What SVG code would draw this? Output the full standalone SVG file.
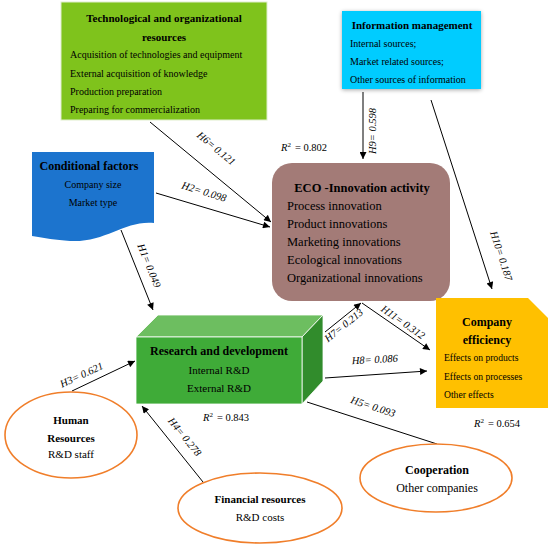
<svg xmlns="http://www.w3.org/2000/svg" width="550" height="549" viewBox="0 0 550 549">
<style>
text{font-family:"Liberation Serif","Times New Roman",serif;fill:#000}
.b{font-weight:bold}
.s10{font-size:10px}
.s11{font-size:11px}
.s12{font-size:12px}
.s13{font-size:12.5px}
.h{font-size:10.5px;font-style:italic}
.c{text-anchor:middle}
.ln{stroke:#000;stroke-width:1;fill:none}
.el{fill:#fff;stroke:#F07E2A;stroke-width:1.6}
.r2{font-size:10.5px}
</style>
<defs>
<marker id="arr" viewBox="0 0 10 10" refX="10" refY="5" markerWidth="9" markerHeight="7" markerUnits="userSpaceOnUse" orient="auto">
<path d="M0,0 L10,5 L0,10 z" fill="#000"/>
</marker>
<filter id="sh" x="-10%" y="-10%" width="120%" height="130%">
<feGaussianBlur in="SourceAlpha" stdDeviation="2"/>
<feOffset dx="0" dy="1"/>
<feComponentTransfer><feFuncA type="linear" slope="0.35"/></feComponentTransfer>
<feMerge><feMergeNode/><feMergeNode in="SourceGraphic"/></feMerge>
</filter>
</defs>
<rect width="550" height="549" fill="#fff"/>

<g id="connectors">
<line class="ln" x1="150" y1="122" x2="271" y2="222" marker-end="url(#arr)"/>
<line class="ln" x1="156" y1="193" x2="270" y2="227" marker-end="url(#arr)"/>
<line class="ln" x1="363" y1="92" x2="363" y2="159" marker-end="url(#arr)"/>
<line class="ln" x1="431" y1="100" x2="492" y2="289" marker-end="url(#arr)"/>
<line class="ln" x1="121" y1="230" x2="153" y2="310" marker-end="url(#arr)"/>
<line class="ln" x1="72" y1="391" x2="135" y2="361" marker-end="url(#arr)"/>
<line class="ln" x1="203" y1="482" x2="142" y2="406" marker-end="url(#arr)"/>
<line class="ln" x1="307" y1="402" x2="437" y2="444"/>
<line class="ln" x1="325" y1="332" x2="361" y2="303" marker-end="url(#arr)"/>
<line class="ln" x1="362" y1="303" x2="430" y2="350" marker-end="url(#arr)"/>
<line class="ln" x1="325" y1="378" x2="427" y2="371" marker-end="url(#arr)"/>
<text class="h c" transform="translate(214,151) rotate(40)">H6= 0.121</text>
<text class="h c" transform="translate(203,195) rotate(17)">H2= 0.098</text>
<text class="h c" transform="translate(376,131) rotate(-90)">H9= 0.598</text>
<text class="h c" transform="translate(498,257) rotate(72)">H10= 0.187</text>
<text class="h c" transform="translate(146,267) rotate(68)">H1= 0.049</text>
<text class="h c" transform="translate(83,378) rotate(-25)">H3= 0.621</text>
<text class="h c" transform="translate(182,439) rotate(51)">H4= 0.278</text>
<text class="h c" transform="translate(372,410) rotate(18)">H5= 0.093</text>
<text class="h c" transform="translate(346,328) rotate(-39)">H7= 0.213</text>
<text class="h c" transform="translate(401,325) rotate(35)">H11= 0.312</text>
<text class="h c" transform="translate(375,363) rotate(-3)">H8= 0.086</text>
</g>

<g id="r2-labels">
<text class="r2" x="281" y="151"><tspan font-style="italic">R</tspan><tspan dy="-4" font-size="7">2</tspan><tspan dy="4" dx="4">= 0.802</tspan></text>
<text class="r2" x="203" y="421"><tspan font-style="italic">R</tspan><tspan dy="-4" font-size="7">2</tspan><tspan dy="4" dx="4">= 0.843</tspan></text>
<text class="r2" x="474" y="427"><tspan font-style="italic">R</tspan><tspan dy="-4" font-size="7">2</tspan><tspan dy="4" dx="4">= 0.654</tspan></text>
</g>

<g id="tech">
<rect x="61" y="2" width="206" height="118" fill="#7FC31C" stroke="#dfeecc" stroke-width="1"/>
<text class="b s11 c" x="164" y="22">Technological and organizational</text>
<text class="b s11 c" x="164" y="41">resources</text>
<text class="s10" x="70" y="58">Acquisition of technologies and equipment</text>
<text class="s10" x="70" y="77">External acquisition of knowledge</text>
<text class="s10" x="70" y="95">Production preparation</text>
<text class="s10" x="70" y="113">Preparing for commercialization</text>
</g>

<g id="info">
<rect x="342" y="11" width="139" height="78" fill="#00CCFF" filter="url(#sh)"/>
<text class="b s11 c" x="412" y="29">Information management</text>
<text class="s10" x="350" y="47">Internal sources;</text>
<text class="s10" x="350" y="65">Market related sources;</text>
<text class="s10" x="350" y="83">Other sources of information</text>
</g>

<g id="conditional">
<path d="M32,152 H154 V223 C125,220 105,243 70,241 C55,240 45,238 32,236 Z" fill="#1C74CE"/>
<text class="b s12 c" x="89" y="170">Conditional factors</text>
<text class="s10 c" x="93" y="188">Company size</text>
<text class="s10 c" x="93" y="206">Market type</text>
</g>

<g id="eco">
<rect x="272" y="163" width="178" height="138" rx="20" ry="20" fill="#A37B77"/>
<text class="b s13 c" x="362" y="192">ECO -Innovation activity</text>
<text class="s13" x="287" y="210">Process innovation</text>
<text class="s13" x="287" y="228">Product innovations</text>
<text class="s13" x="287" y="246">Marketing innovations</text>
<text class="s13" x="287" y="264">Ecological innovations</text>
<text class="s13" x="287" y="282">Organizational innovations</text>
</g>

<g id="efficiency">
<path d="M436,298 H528 L548,318 V408 H436 Z" fill="#FFC000"/>
<text class="b s12 c" x="487" y="326">Company</text>
<text class="b s12 c" x="487" y="344">efficiency</text>
<text style="font-size:9.6px" x="444" y="361">Effects on products</text>
<text style="font-size:9.6px" x="444" y="380">Effects on processes</text>
<text style="font-size:9.6px" x="444" y="398">Other effects</text>
</g>

<g id="rnd">
<polygon points="136,337 158,315 323,315 302,337" fill="#6DBE60" stroke="#fff" stroke-width="0.8"/>
<polygon points="302,337 323,315 323,381 302,404" fill="#318C2C" stroke="#fff" stroke-width="0.8"/>
<rect x="136" y="337" width="166" height="67" fill="#3FAB38" stroke="#fff" stroke-width="0.8"/>
<text class="b s12 c" x="219" y="355">Research and development</text>
<text class="s11 c" x="219" y="374">Internal R&amp;D</text>
<text class="s11 c" x="219" y="392">External R&amp;D</text>
</g>

<g id="human">
<ellipse class="el" cx="71" cy="435" rx="66" ry="43"/>
<text class="b s11 c" x="71" y="424">Human</text>
<text class="b s11 c" x="71" y="442">Resources</text>
<text class="s11 c" x="71" y="458">R&amp;D staff</text>
</g>

<g id="financial">
<ellipse class="el" cx="260" cy="508" rx="82" ry="35"/>
<text class="b s11 c" x="260" y="503">Financial resources</text>
<text class="s11 c" x="260" y="521">R&amp;D costs</text>
</g>

<g id="cooperation">
<ellipse class="el" cx="436" cy="478" rx="76" ry="34"/>
<text class="b s12 c" x="437" y="474">Cooperation</text>
<text class="s12 c" x="437" y="492">Other companies</text>
</g>
</svg>
